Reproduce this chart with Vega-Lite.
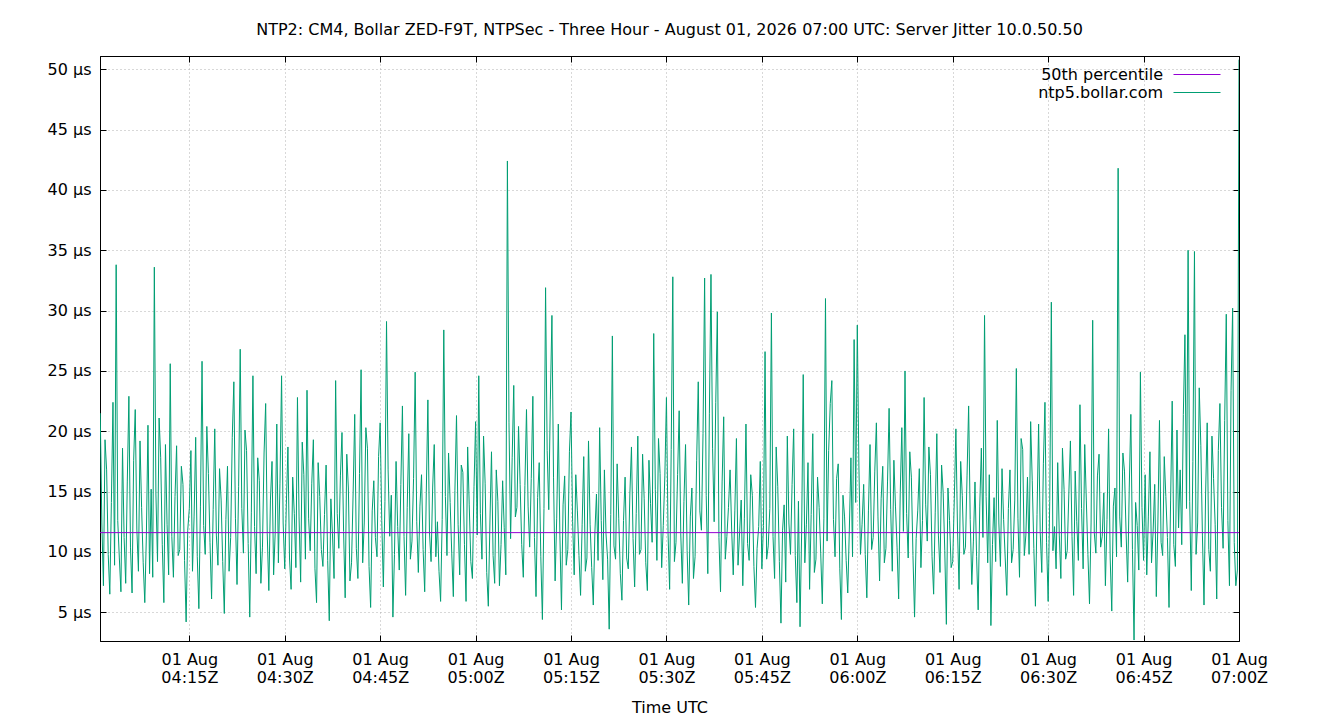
{
"$schema":"https://vega.github.io/schema/vega-lite/v6.json",
"autosize":"none",
"width":1139,"height":585,
"padding":{"left":100,"top":56,"right":101,"bottom":79},
"background":"white",
"title":{"text":"NTP2: CM4, Bollar ZED-F9T, NTPSec - Three Hour - August 01, 2026 07:00 UTC: Server Jitter 10.0.50.50","anchor":"middle","font":"DejaVu Sans","fontSize":16,"fontWeight":"normal","color":"black","offset":12.5},
"config":{
 "view":{"stroke":"black","strokeWidth":1},
 "axis":{"labelFont":"DejaVu Sans","labelFontSize":16,"labelColor":"black","titleFont":"DejaVu Sans","titleFontSize":16,"titleFontWeight":"normal","titleColor":"black","domainColor":"black","tickColor":"black","tickSize":-6,"gridColor":"#b0b0b0","gridDash":[1,3],"gridWidth":1},
 "legend":{"orient":"none","padding":0,"symbolType":"stroke","symbolSize":2209,"symbolStrokeWidth":1,"labelFont":"DejaVu Sans","labelFontSize":16,"labelColor":"black","labelAlign":"right","labelOffset":-58,"title":null}
},
"datasets":{
"median":[{"t":0.96,"v":11.6},{"t":180,"v":11.6}],
"jitter":[
{"t":1,"v":21.5},{"t":1.25,"v":12.4},{"t":1.5,"v":7.2},{"t":1.75,"v":19.3},{"t":2,"v":16.8},{"t":2.25,"v":9.8},{"t":2.5,"v":6.5},{"t":2.75,"v":14.1},{"t":3,"v":22.4},{"t":3.25,"v":8.9},{"t":3.5,"v":33.8},{"t":3.75,"v":12.6},{"t":4,"v":9.5},{"t":4.25,"v":6.7},{"t":4.5,"v":18.6},{"t":4.75,"v":11.2},{"t":5,"v":7.4},{"t":5.25,"v":15.8},{"t":5.5,"v":22.9},{"t":5.75,"v":10.4},{"t":6,"v":6.6},{"t":6.25,"v":17.6},{"t":6.5,"v":21.8},{"t":6.75,"v":11.9},{"t":7,"v":8.4},{"t":7.25,"v":19.2},{"t":7.5,"v":13.7},{"t":7.75,"v":9.1},{"t":8,"v":5.8},{"t":8.25,"v":11.4},{"t":8.5,"v":20.5},{"t":8.75,"v":8.2},{"t":9,"v":15.2},{"t":9.25,"v":7.9},{"t":9.5,"v":33.6},{"t":9.75,"v":14.8},{"t":10,"v":9.2},{"t":10.25,"v":21.1},{"t":10.5,"v":17.8},{"t":10.75,"v":10.6},
{"t":11,"v":5.8},{"t":11.25,"v":18.9},{"t":11.5,"v":12.3},{"t":11.75,"v":8.1},{"t":12,"v":25.6},{"t":12.25,"v":11.3},{"t":12.5,"v":7.9},{"t":12.75,"v":14.6},{"t":13,"v":18.8},{"t":13.25,"v":9.7},{"t":13.5,"v":10.2},{"t":13.75,"v":17.1},{"t":14,"v":15.6},{"t":14.25,"v":9.3},{"t":14.5,"v":4.2},{"t":14.75,"v":11.8},{"t":15,"v":13.6},{"t":15.25,"v":18.4},{"t":15.5,"v":8.4},{"t":15.75,"v":12.9},{"t":16,"v":19.5},{"t":16.25,"v":9.6},{"t":16.5,"v":5.3},{"t":16.75,"v":13.8},{"t":17,"v":25.8},{"t":17.25,"v":12.2},{"t":17.5,"v":9.8},{"t":17.75,"v":20.4},{"t":18,"v":16.5},{"t":18.25,"v":10.8},{"t":18.5,"v":6.1},{"t":18.75,"v":13.5},{"t":19,"v":20.2},{"t":19.25,"v":11.4},{"t":19.5,"v":8.9},{"t":19.75,"v":16.9},{"t":20,"v":14.3},{"t":20.25,"v":9.2},{"t":20.5,"v":4.9},{"t":20.75,"v":12.7},
{"t":21,"v":17.1},{"t":21.25,"v":8.4},{"t":21.5,"v":11.2},{"t":21.75,"v":19.5},{"t":22,"v":24.1},{"t":22.25,"v":12.8},{"t":22.5,"v":7.3},{"t":22.75,"v":15.4},{"t":23,"v":26.8},{"t":23.25,"v":13.6},{"t":23.5,"v":9.9},{"t":23.75,"v":20.1},{"t":24,"v":18.4},{"t":24.25,"v":10.7},{"t":24.5,"v":4.6},{"t":24.75,"v":13.3},{"t":25,"v":24.6},{"t":25.25,"v":12.1},{"t":25.5,"v":8.2},{"t":25.75,"v":17.8},{"t":26,"v":15.9},{"t":26.25,"v":7.4},{"t":26.5,"v":10.4},{"t":26.75,"v":18.2},{"t":27,"v":22.3},{"t":27.25,"v":11.5},{"t":27.5,"v":6.8},{"t":27.75,"v":14.3},{"t":28,"v":17.5},{"t":28.25,"v":8.1},{"t":28.5,"v":11.6},{"t":28.75,"v":20.6},{"t":29,"v":9.1},{"t":29.25,"v":15.7},{"t":29.5,"v":24.6},{"t":29.75,"v":12.4},{"t":30,"v":8.6},{"t":30.25,"v":13.9},{"t":30.5,"v":18.7},{"t":30.75,"v":9.5},
{"t":31,"v":6.9},{"t":31.25,"v":16.2},{"t":31.5,"v":13.2},{"t":31.75,"v":8.7},{"t":32,"v":22.8},{"t":32.25,"v":12.9},{"t":32.5,"v":7.5},{"t":32.75,"v":19.1},{"t":33,"v":16.4},{"t":33.25,"v":9.4},{"t":33.5,"v":23.4},{"t":33.75,"v":12.8},{"t":34,"v":10.1},{"t":34.25,"v":15.7},{"t":34.5,"v":19.3},{"t":34.75,"v":8.6},{"t":35,"v":5.8},{"t":35.25,"v":17.4},{"t":35.5,"v":14.6},{"t":35.75,"v":10.2},{"t":36,"v":8.8},{"t":36.25,"v":13.1},{"t":36.5,"v":17.2},{"t":36.75,"v":9.3},{"t":37,"v":4.3},{"t":37.25,"v":14.4},{"t":37.5,"v":11.5},{"t":37.75,"v":7.8},{"t":38,"v":24.2},{"t":38.25,"v":13.2},{"t":38.5,"v":10.3},{"t":38.75,"v":16.3},{"t":39,"v":19.9},{"t":39.25,"v":11.7},{"t":39.5,"v":6.2},{"t":39.75,"v":18.1},{"t":40,"v":15.3},{"t":40.25,"v":7.6},{"t":40.5,"v":9.1},{"t":40.75,"v":14.9},
{"t":41,"v":21.4},{"t":41.25,"v":10.3},{"t":41.5,"v":7.8},{"t":41.75,"v":16.5},{"t":42,"v":25.1},{"t":42.25,"v":9.1},{"t":42.5,"v":12.4},{"t":42.75,"v":20.3},{"t":43,"v":18.6},{"t":43.25,"v":8.8},{"t":43.5,"v":5.4},{"t":43.75,"v":13.4},{"t":44,"v":15.9},{"t":44.25,"v":11.2},{"t":44.5,"v":9.6},{"t":44.75,"v":17.9},{"t":45,"v":20.7},{"t":45.25,"v":12.6},{"t":45.5,"v":7.1},{"t":45.75,"v":14.2},{"t":46,"v":29.1},{"t":46.25,"v":16.8},{"t":46.5,"v":11.3},{"t":46.75,"v":14.7},{"t":47,"v":4.6},{"t":47.25,"v":9.8},{"t":47.5,"v":17.5},{"t":47.75,"v":12.1},{"t":48,"v":8.5},{"t":48.25,"v":15.6},{"t":48.5,"v":22.1},{"t":48.75,"v":11.3},{"t":49,"v":6.4},{"t":49.25,"v":13.7},{"t":49.5,"v":19.8},{"t":49.75,"v":9.4},{"t":50,"v":10.9},{"t":50.25,"v":16.1},{"t":50.5,"v":24.9},{"t":50.75,"v":12.5},
{"t":51,"v":8.3},{"t":51.25,"v":13.8},{"t":51.5,"v":16.4},{"t":51.75,"v":10.2},{"t":52,"v":6.7},{"t":52.25,"v":14.9},{"t":52.5,"v":22.6},{"t":52.75,"v":11.6},{"t":53,"v":9.2},{"t":53.25,"v":15.3},{"t":53.5,"v":18.9},{"t":53.75,"v":9.6},{"t":54,"v":12.5},{"t":54.25,"v":8.4},{"t":54.5,"v":5.9},{"t":54.75,"v":12.7},{"t":55,"v":28.4},{"t":55.25,"v":14.6},{"t":55.5,"v":9.7},{"t":55.75,"v":18.2},{"t":56,"v":14.1},{"t":56.25,"v":9.9},{"t":56.5,"v":6.3},{"t":56.75,"v":15.1},{"t":57,"v":21.3},{"t":57.25,"v":12.3},{"t":57.5,"v":8.1},{"t":57.75,"v":17.2},{"t":58,"v":16.6},{"t":58.25,"v":10.6},{"t":58.5,"v":5.9},{"t":58.75,"v":18.7},{"t":59,"v":13.9},{"t":59.25,"v":9.2},{"t":59.5,"v":7.8},{"t":59.75,"v":15.4},{"t":60,"v":20.8},{"t":60.25,"v":11.4},{"t":60.5,"v":24.6},{"t":60.75,"v":13.2},
{"t":61,"v":9.4},{"t":61.25,"v":19.6},{"t":61.5,"v":15.7},{"t":61.75,"v":8.3},{"t":62,"v":5.5},{"t":62.25,"v":12.4},{"t":62.5,"v":18.3},{"t":62.75,"v":9.7},{"t":63,"v":7.4},{"t":63.25,"v":16.8},{"t":63.5,"v":14.2},{"t":63.75,"v":7.2},{"t":64,"v":10.6},{"t":64.25,"v":15.9},{"t":64.5,"v":12.0},{"t":64.75,"v":8.1},{"t":65,"v":42.4},{"t":65.25,"v":20.7},{"t":65.5,"v":11.1},{"t":65.75,"v":17.8},{"t":66,"v":23.8},{"t":66.25,"v":12.9},{"t":66.5,"v":13.7},{"t":66.75,"v":20.4},{"t":67,"v":15.6},{"t":67.25,"v":10.6},{"t":67.5,"v":7.9},{"t":67.75,"v":15.5},{"t":68,"v":21.8},{"t":68.25,"v":13.8},{"t":68.5,"v":10.4},{"t":68.75,"v":16.1},{"t":69,"v":22.9},{"t":69.25,"v":11.2},{"t":69.5,"v":6.3},{"t":69.75,"v":14.5},{"t":70,"v":17.4},{"t":70.25,"v":9.6},{"t":70.5,"v":4.4},{"t":70.75,"v":13.6},
{"t":71,"v":31.9},{"t":71.25,"v":18.4},{"t":71.5,"v":13.5},{"t":71.75,"v":22.6},{"t":72,"v":29.6},{"t":72.25,"v":16.2},{"t":72.5,"v":7.6},{"t":72.75,"v":12.8},{"t":73,"v":20.6},{"t":73.25,"v":11.4},{"t":73.5,"v":5.2},{"t":73.75,"v":13.9},{"t":74,"v":16.3},{"t":74.25,"v":8.9},{"t":74.5,"v":10.2},{"t":74.75,"v":18.3},{"t":75,"v":21.6},{"t":75.25,"v":12.5},{"t":75.5,"v":8.1},{"t":75.75,"v":16.4},{"t":76,"v":13.4},{"t":76.25,"v":9.7},{"t":76.5,"v":6.4},{"t":76.75,"v":12.3},{"t":77,"v":17.9},{"t":77.25,"v":8.4},{"t":77.5,"v":9.5},{"t":77.75,"v":19.2},{"t":78,"v":12.3},{"t":78.25,"v":8.7},{"t":78.5,"v":5.6},{"t":78.75,"v":11.6},{"t":79,"v":14.8},{"t":79.25,"v":9.3},{"t":79.5,"v":20.3},{"t":79.75,"v":12.6},{"t":80,"v":7.7},{"t":80.25,"v":16.8},{"t":80.5,"v":11.5},{"t":80.75,"v":9.4},
{"t":81,"v":3.6},{"t":81.25,"v":13.1},{"t":81.5,"v":27.9},{"t":81.75,"v":10.5},{"t":82,"v":9.4},{"t":82.25,"v":17.3},{"t":82.5,"v":12.8},{"t":82.75,"v":8.2},{"t":83,"v":6.0},{"t":83.25,"v":12.6},{"t":83.5,"v":16.2},{"t":83.75,"v":9.5},{"t":84,"v":8.6},{"t":84.25,"v":14.8},{"t":84.5,"v":18.7},{"t":84.75,"v":11.1},{"t":85,"v":7.1},{"t":85.25,"v":13.2},{"t":85.5,"v":19.6},{"t":85.75,"v":9.8},{"t":86,"v":10.2},{"t":86.25,"v":18.1},{"t":86.5,"v":14.4},{"t":86.75,"v":9.1},{"t":87,"v":6.8},{"t":87.25,"v":17.6},{"t":87.5,"v":14.0},{"t":87.75,"v":10.8},{"t":88,"v":28.1},{"t":88.25,"v":15.2},{"t":88.5,"v":9.3},{"t":88.75,"v":19.4},{"t":89,"v":16.5},{"t":89.25,"v":8.7},{"t":89.5,"v":12.2},{"t":89.75,"v":16.3},{"t":90,"v":22.8},{"t":90.25,"v":11.6},{"t":90.5,"v":6.9},{"t":90.75,"v":18.5},
{"t":91,"v":32.8},{"t":91.25,"v":9.2},{"t":91.5,"v":10.8},{"t":91.75,"v":16.4},{"t":92,"v":21.7},{"t":92.25,"v":11.5},{"t":92.5,"v":7.4},{"t":92.75,"v":14.2},{"t":93,"v":18.9},{"t":93.25,"v":10.1},{"t":93.5,"v":5.6},{"t":93.75,"v":12.9},{"t":94,"v":15.3},{"t":94.25,"v":7.8},{"t":94.5,"v":9.6},{"t":94.75,"v":17.6},{"t":95,"v":24.1},{"t":95.25,"v":13.4},{"t":95.5,"v":11.8},{"t":95.75,"v":19.8},{"t":96,"v":32.7},{"t":96.25,"v":14.7},{"t":96.5,"v":8.2},{"t":96.75,"v":21.5},{"t":97,"v":33.0},{"t":97.25,"v":18.6},{"t":97.5,"v":12.5},{"t":97.75,"v":22.4},{"t":98,"v":29.9},{"t":98.25,"v":11.2},{"t":98.5,"v":6.7},{"t":98.75,"v":15.8},{"t":99,"v":21.2},{"t":99.25,"v":9.4},{"t":99.5,"v":11.3},{"t":99.75,"v":13.7},{"t":100,"v":16.8},{"t":100.25,"v":11.9},{"t":100.5,"v":8.1},{"t":100.75,"v":13.4},
{"t":101,"v":19.4},{"t":101.25,"v":8.9},{"t":101.5,"v":11.6},{"t":101.75,"v":14.3},{"t":102,"v":7.2},{"t":102.25,"v":12.8},{"t":102.5,"v":20.6},{"t":102.75,"v":10.7},{"t":103,"v":9.3},{"t":103.25,"v":16.4},{"t":103.5,"v":14.7},{"t":103.75,"v":8.8},{"t":104,"v":5.4},{"t":104.25,"v":10.3},{"t":104.5,"v":12.1},{"t":104.75,"v":17.5},{"t":105,"v":8.6},{"t":105.25,"v":12.2},{"t":105.5,"v":26.6},{"t":105.75,"v":9.4},{"t":106,"v":10.5},{"t":106.25,"v":13.6},{"t":106.5,"v":29.8},{"t":106.75,"v":11.3},{"t":107,"v":7.8},{"t":107.25,"v":18.7},{"t":107.5,"v":15.4},{"t":107.75,"v":9.2},{"t":108,"v":4.1},{"t":108.25,"v":11.8},{"t":108.5,"v":13.9},{"t":108.75,"v":7.5},{"t":109,"v":19.6},{"t":109.25,"v":12.4},{"t":109.5,"v":9.8},{"t":109.75,"v":15.6},{"t":110,"v":20.2},{"t":110.25,"v":9.7},{"t":110.5,"v":5.8},{"t":110.75,"v":14.2},
{"t":111,"v":3.8},{"t":111.25,"v":11.6},{"t":111.5,"v":24.7},{"t":111.75,"v":9.1},{"t":112,"v":12.3},{"t":112.25,"v":17.4},{"t":112.5,"v":6.9},{"t":112.75,"v":13.1},{"t":113,"v":19.8},{"t":113.25,"v":8.3},{"t":113.5,"v":9.4},{"t":113.75,"v":16.2},{"t":114,"v":13.7},{"t":114.25,"v":9.9},{"t":114.5,"v":5.7},{"t":114.75,"v":12.8},{"t":115,"v":31.0},{"t":115.25,"v":10.9},{"t":115.5,"v":18.4},{"t":115.75,"v":22.3},{"t":116,"v":24.2},{"t":116.25,"v":12.7},{"t":116.5,"v":9.6},{"t":116.75,"v":16.1},{"t":117,"v":17.3},{"t":117.25,"v":8.6},{"t":117.5,"v":4.4},{"t":117.75,"v":14.7},{"t":118,"v":12.9},{"t":118.25,"v":9.3},{"t":118.5,"v":6.6},{"t":118.75,"v":11.9},{"t":119,"v":17.8},{"t":119.25,"v":9.6},{"t":119.5,"v":27.6},{"t":119.75,"v":14.1},{"t":120,"v":28.8},{"t":120.25,"v":17.2},{"t":120.5,"v":9.8},{"t":120.75,"v":12.3},
{"t":121,"v":15.6},{"t":121.25,"v":9.8},{"t":121.5,"v":6.2},{"t":121.75,"v":13.4},{"t":122,"v":18.9},{"t":122.25,"v":10.2},{"t":122.5,"v":11.2},{"t":122.75,"v":16.7},{"t":123,"v":20.7},{"t":123.25,"v":12.9},{"t":123.5,"v":7.6},{"t":123.75,"v":14.4},{"t":124,"v":17.1},{"t":124.25,"v":9.1},{"t":124.5,"v":10.3},{"t":124.75,"v":15.8},{"t":125,"v":21.9},{"t":125.25,"v":13.5},{"t":125.5,"v":8.4},{"t":125.75,"v":17.6},{"t":126,"v":13.8},{"t":126.25,"v":10.4},{"t":126.5,"v":6.1},{"t":126.75,"v":14.9},{"t":127,"v":20.3},{"t":127.25,"v":11.7},{"t":127.5,"v":25.0},{"t":127.75,"v":13.2},{"t":128,"v":9.5},{"t":128.25,"v":18.3},{"t":128.5,"v":16.2},{"t":128.75,"v":9.7},{"t":129,"v":4.6},{"t":129.25,"v":11.1},{"t":129.5,"v":13.4},{"t":129.75,"v":16.9},{"t":130,"v":8.7},{"t":130.25,"v":12.6},{"t":130.5,"v":22.8},{"t":130.75,"v":13.9},
{"t":131,"v":10.9},{"t":131.25,"v":18.7},{"t":131.5,"v":16.4},{"t":131.75,"v":9.6},{"t":132,"v":6.5},{"t":132.25,"v":13.3},{"t":132.5,"v":19.8},{"t":132.75,"v":11.4},{"t":133,"v":8.3},{"t":133.25,"v":17.2},{"t":133.5,"v":14.9},{"t":133.75,"v":10.1},{"t":134,"v":4.0},{"t":134.25,"v":15.3},{"t":134.5,"v":12.6},{"t":134.75,"v":8.7},{"t":135,"v":9.2},{"t":135.25,"v":14.4},{"t":135.5,"v":20.2},{"t":135.75,"v":11.9},{"t":136,"v":6.9},{"t":136.25,"v":17.5},{"t":136.5,"v":14.7},{"t":136.75,"v":9.8},{"t":137,"v":10.4},{"t":137.25,"v":16.3},{"t":137.5,"v":22.1},{"t":137.75,"v":12.7},{"t":138,"v":7.3},{"t":138.25,"v":10.9},{"t":138.5,"v":15.8},{"t":138.75,"v":9.6},{"t":139,"v":5.2},{"t":139.25,"v":13.8},{"t":139.5,"v":18.6},{"t":139.75,"v":11.2},{"t":140,"v":29.6},{"t":140.25,"v":14.6},{"t":140.5,"v":9.1},{"t":140.75,"v":16.4},
{"t":141,"v":3.9},{"t":141.25,"v":10.6},{"t":141.5,"v":14.5},{"t":141.75,"v":9.2},{"t":142,"v":20.9},{"t":142.25,"v":12.4},{"t":142.5,"v":8.8},{"t":142.75,"v":16.9},{"t":143,"v":12.7},{"t":143.25,"v":9.5},{"t":143.5,"v":6.4},{"t":143.75,"v":13.6},{"t":144,"v":16.8},{"t":144.25,"v":9.1},{"t":144.5,"v":10.2},{"t":144.75,"v":14.3},{"t":145,"v":25.2},{"t":145.25,"v":12.8},{"t":145.5,"v":7.9},{"t":145.75,"v":19.4},{"t":146,"v":18.5},{"t":146.25,"v":9.7},{"t":146.5,"v":11.4},{"t":146.75,"v":16.2},{"t":147,"v":9.8},{"t":147.25,"v":20.8},{"t":147.5,"v":15.9},{"t":147.75,"v":10.3},{"t":148,"v":5.5},{"t":148.25,"v":13.1},{"t":148.5,"v":20.6},{"t":148.75,"v":11.7},{"t":149,"v":8.3},{"t":149.25,"v":17.3},{"t":149.5,"v":22.4},{"t":149.75,"v":10.8},{"t":150,"v":5.9},{"t":150.25,"v":14.2},{"t":150.5,"v":30.7},{"t":150.75,"v":10.1},
{"t":151,"v":12.1},{"t":151.25,"v":8.6},{"t":151.5,"v":17.4},{"t":151.75,"v":11.4},{"t":152,"v":7.8},{"t":152.25,"v":18.6},{"t":152.5,"v":15.2},{"t":152.75,"v":9.4},{"t":153,"v":10.1},{"t":153.25,"v":14.8},{"t":153.5,"v":19.2},{"t":153.75,"v":11.3},{"t":154,"v":6.4},{"t":154.25,"v":16.7},{"t":154.5,"v":12.5},{"t":154.75,"v":9.3},{"t":155,"v":22.2},{"t":155.25,"v":13.6},{"t":155.5,"v":8.6},{"t":155.75,"v":18.9},{"t":156,"v":14.3},{"t":156.25,"v":9.8},{"t":156.5,"v":5.7},{"t":156.75,"v":12.4},{"t":157,"v":29.2},{"t":157.25,"v":11.6},{"t":157.5,"v":9.9},{"t":157.75,"v":16.3},{"t":158,"v":18.1},{"t":158.25,"v":10.4},{"t":158.5,"v":11.3},{"t":158.75,"v":14.9},{"t":159,"v":7.2},{"t":159.25,"v":12.7},{"t":159.5,"v":20.2},{"t":159.75,"v":9.5},{"t":160,"v":5.1},{"t":160.25,"v":13.8},{"t":160.5,"v":15.3},{"t":160.75,"v":9.6},
{"t":161,"v":41.8},{"t":161.25,"v":12.9},{"t":161.5,"v":10.4},{"t":161.75,"v":18.2},{"t":162,"v":16.7},{"t":162.25,"v":11.6},{"t":162.5,"v":7.5},{"t":162.75,"v":15.3},{"t":163,"v":21.4},{"t":163.25,"v":10.2},{"t":163.5,"v":2.7},{"t":163.75,"v":14.1},{"t":164,"v":12.2},{"t":164.25,"v":8.5},{"t":164.5,"v":24.9},{"t":164.75,"v":13.7},{"t":165,"v":9.3},{"t":165.25,"v":16.4},{"t":165.5,"v":8.1},{"t":165.75,"v":12.9},{"t":166,"v":18.3},{"t":166.25,"v":9.1},{"t":166.5,"v":11.7},{"t":166.75,"v":15.6},{"t":167,"v":6.3},{"t":167.25,"v":12.4},{"t":167.5,"v":20.9},{"t":167.75,"v":10.8},{"t":168,"v":9.7},{"t":168.25,"v":17.9},{"t":168.5,"v":14.6},{"t":168.75,"v":11.2},{"t":169,"v":5.4},{"t":169.25,"v":14.3},{"t":169.5,"v":22.5},{"t":169.75,"v":10.6},{"t":170,"v":8.8},{"t":170.25,"v":20.1},{"t":170.5,"v":12.0},{"t":170.75,"v":16.8},
{"t":171,"v":10.6},{"t":171.25,"v":21.4},{"t":171.5,"v":28.0},{"t":171.75,"v":13.6},{"t":172,"v":35.0},{"t":172.25,"v":14.2},{"t":172.5,"v":6.8},{"t":172.75,"v":17.5},{"t":173,"v":34.9},{"t":173.25,"v":9.8},{"t":173.5,"v":12.4},{"t":173.75,"v":23.6},{"t":174,"v":18.8},{"t":174.25,"v":11.4},{"t":174.5,"v":5.6},{"t":174.75,"v":14.8},{"t":175,"v":20.7},{"t":175.25,"v":10.2},{"t":175.5,"v":8.4},{"t":175.75,"v":19.6},{"t":176,"v":16.1},{"t":176.25,"v":12.3},{"t":176.5,"v":6.1},{"t":176.75,"v":18.4},{"t":177,"v":22.3},{"t":177.25,"v":13.7},{"t":177.5,"v":10.3},{"t":177.75,"v":20.9},{"t":178,"v":29.7},{"t":178.25,"v":12.6},{"t":178.5,"v":7.2},{"t":178.75,"v":23.4},{"t":179,"v":30.2},{"t":179.25,"v":10.8},{"t":179.5,"v":7.2},{"t":179.75,"v":8.5},{"t":180,"v":50.8}
]},
"layer":[
 {"data":{"name":"jitter"},
  "mark":{"type":"line","strokeWidth":1,"clip":true},
  "encoding":{
   "x":{"field":"t","type":"quantitative","scale":{"domain":[0.96,180],"nice":false,"zero":false},
        "axis":{"orient":"bottom","values":[15,30,45,60,75,90,105,120,135,150,165,180],"labelExpr":"['01 Aug', '0' + (4 + floor(datum.value/60)) + ':' + (datum.value % 60 == 0 ? '00' : '' + (datum.value % 60)) + 'Z']","labelPadding":16,"labelLineHeight":18,"labelFlush":false,"title":"Time UTC","titlePadding":14,"grid":true}},
   "y":{"field":"v","type":"quantitative","scale":{"domain":[2.62,51.1],"nice":false,"zero":false},
        "axis":{"orient":"left","values":[5,10,15,20,25,30,35,40,45,50],"labelExpr":"datum.value + ' µs'","labelPadding":15,"title":null,"grid":true}},
   "stroke":{"datum":"ntp5.bollar.com","type":"nominal","scale":{"domain":["ntp5.bollar.com"],"range":["#009e73"]},"legend":{"legendX":1073,"legendY":12.5}}
  }},
 {"data":{"name":"median"},
  "mark":{"type":"line","strokeWidth":1,"clip":true},
  "encoding":{
   "x":{"field":"t","type":"quantitative","axis":{"orient":"top","values":[15,30,45,60,75,90,105,120,135,150,165,180],"labels":false,"title":null,"grid":false}},
   "y":{"field":"v","type":"quantitative","axis":{"orient":"right","values":[5,10,15,20,25,30,35,40,45,50],"labels":false,"title":null,"grid":false}},
   "color":{"datum":"50th percentile","type":"nominal","scale":{"domain":["50th percentile"],"range":["#9400d3"]},"legend":{"legendX":1073,"legendY":-5.5}}
  }}
],
"resolve":{"axis":{"x":"independent","y":"independent"}}
}
